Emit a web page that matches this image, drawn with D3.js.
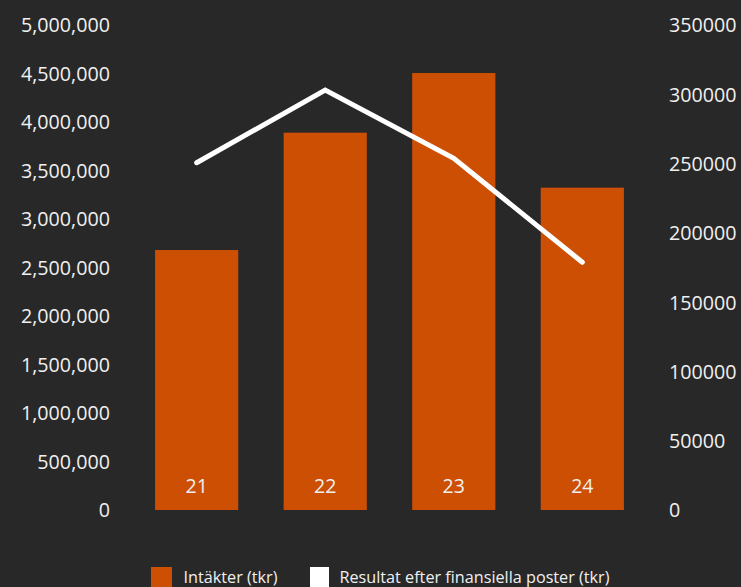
<!DOCTYPE html>
<html>
<head>
<meta charset="utf-8">
<script src="https://cdn.jsdelivr.net/npm/d3@7"></script>
<style>
  html, body { margin: 0; padding: 0; background: #282828; }
  svg { display: block; }
  text { font-family: "Open Sans", "Noto Sans", sans-serif; fill: #f0f0f0; }
</style>
</head>
<body>
<svg id="chart" width="741" height="587"></svg>
<script>
const categories = ["21", "22", "23", "24"];
const revenue = [2680000, 3890000, 4505000, 3323000];
const result = [250600, 303000, 253800, 178800];
const leftTicks = [0, 500000, 1000000, 1500000, 2000000, 2500000, 3000000, 3500000, 4000000, 4500000, 5000000];
const rightTicks = [0, 50000, 100000, 150000, 200000, 250000, 300000, 350000];
const seriesNames = ["Intäkter (tkr)", "Resultat efter finansiella poster (tkr)"];

(function () {
const W = 741, H = 587;
const svg = d3.select("#chart");
svg.append("rect").attr("width", W).attr("height", H).attr("fill", "#282828");

const plotTop = 25, plotBottom = 510;
const x = d3.scaleBand().domain(categories).range([132.4, 646.6]).paddingInner(0.353).paddingOuter(0.1765);
const yL = d3.scaleLinear().domain([0, 5000000]).range([plotBottom, plotTop]);
const yR = d3.scaleLinear().domain([0, 350000]).range([plotBottom, plotTop]);

const fmtL = d3.format(",");
const fmtR = d3.format("d");

// left axis
const axL = svg.append("g").attr("transform", "translate(110,0)")
  .call(d3.axisLeft(yL).tickValues(leftTicks).tickFormat(fmtL).tickSize(0).tickPadding(0));
axL.select(".domain").remove();
axL.selectAll("text").attr("fill", "#f0f0f0").style("font-size", "19.7px")
  .style("font-family", '"Open Sans", sans-serif').attr("dy", "0.35em");

// right axis
const axR = svg.append("g").attr("transform", "translate(669,0)")
  .call(d3.axisRight(yR).tickValues(rightTicks).tickFormat(fmtR).tickSize(0).tickPadding(0));
axR.select(".domain").remove();
axR.selectAll("text").attr("fill", "#f0f0f0").style("font-size", "19.7px")
  .style("font-family", '"Open Sans", sans-serif').attr("dy", "0.35em");

// bars
svg.append("g").selectAll("rect").data(categories).join("rect")
  .attr("x", d => x(d))
  .attr("width", x.bandwidth())
  .attr("y", (d, i) => yL(revenue[i]))
  .attr("height", (d, i) => plotBottom - yL(revenue[i]))
  .attr("fill", "#cc4f04");

// category labels inside bars
svg.append("g").selectAll("text").data(categories).join("text")
  .attr("x", d => x(d) + x.bandwidth() / 2)
  .attr("y", 486)
  .attr("dy", "0.35em")
  .attr("text-anchor", "middle")
  .style("font-size", "19.5px")
  .text(d => d);

// line
const line = d3.line()
  .x((d, i) => x(categories[i]) + x.bandwidth() / 2)
  .y(d => yR(d));
svg.append("path").datum(result)
  .attr("d", line)
  .attr("fill", "none")
  .attr("stroke", "#ffffff")
  .attr("stroke-width", 5)
  .attr("stroke-linecap", "round")
  .attr("stroke-linejoin", "miter");

// legend
const lg = svg.append("g");
lg.append("rect").attr("x", 151).attr("y", 567).attr("width", 21).attr("height", 20).attr("fill", "#cc4f04");
lg.append("text").attr("x", 183.5).attr("y", 577).attr("dy", "0.35em")
  .style("font-size", "16.5px").attr("textLength", 94).attr("lengthAdjust", "spacingAndGlyphs")
  .text(seriesNames[0]);
lg.append("rect").attr("x", 310).attr("y", 567).attr("width", 19).attr("height", 20).attr("fill", "#ffffff");
lg.append("text").attr("x", 339.5).attr("y", 577).attr("dy", "0.35em")
  .style("font-size", "16.5px").attr("textLength", 270).attr("lengthAdjust", "spacingAndGlyphs")
  .text(seriesNames[1]);
})();
</script>
</body>
</html>
